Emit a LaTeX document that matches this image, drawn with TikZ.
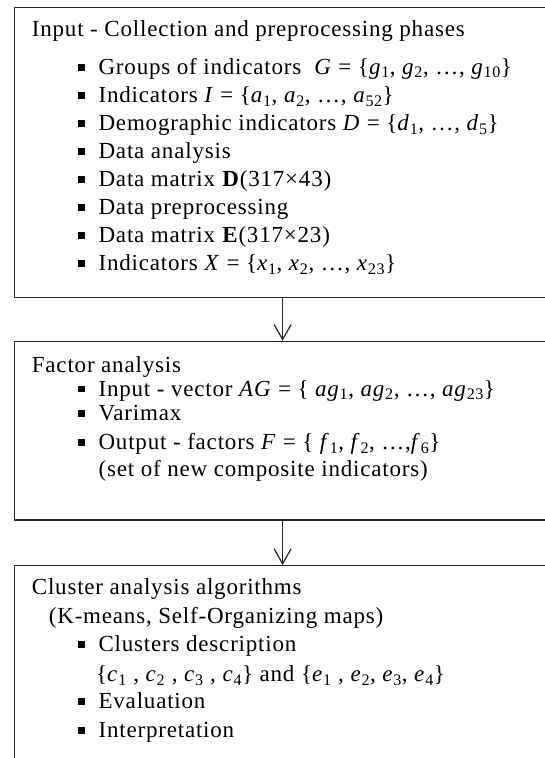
\documentclass[tikz,border=0pt]{standalone}
\usepackage{fontspec}
\setmainfont{Liberation Serif}[LetterSpace=3.5]
\usetikzlibrary{arrows.meta}
\newcommand\sbs[2]{\textit{#1}\textsubscript{#2}}
\newcommand\bul{\rule[3.7pt]{6.7pt}{6.7pt}\hspace{13.7pt}}
\tikzset{
  box/.style={draw=black!85, line width=1.2pt, minimum width=536.2pt, anchor=north west, inner sep=0pt},
  txt/.style={anchor=base west, inner sep=0pt, font=\fontsize{23}{27}\selectfont},
  arr/.style={draw=black!85, line width=1.2pt, -{Straight Barb[length=15pt,width=17pt,line width=1.2pt]}}
}
\begin{document}
\begin{tikzpicture}[x=1pt,y=-1pt]
\useasboundingbox (0,0) rectangle (545,758);
\clip (0,0) rectangle (545,758);
\fill[white] (0,0) rectangle (545,758);
% boxes
\node[box, minimum height=290pt] (b1) at (13.9,6.7) {};
\node[box, minimum height=178.6pt] (b2) at (13.9,340.7) {};
\node[box, minimum height=215pt] (b3) at (13.9,565) {};
\draw[arr] (b1.south) -- (b2.north);
\draw[arr] (b2.south) -- (b3.north);
% box 1
\node[txt] (t1) at (31.7,36.7) {Input - Collection and preprocessing phases};
\node[txt] (t1a) at (78,74.2) {\bul Groups of indicators \ \textit{G} = \{\sbs{g}{1}, \sbs{g}{2}, …, \sbs{g}{10}\}};
\node[txt] (t1b) at (78,102.3) {\bul Indicators \textit{I} = \{\sbs{a}{1}, \sbs{a}{2}, …, \sbs{a}{52}\}};
\node[txt] (t1c) at (78,130.4) {\bul Demographic indicators \textit{D} = \{\sbs{d}{1}, …, \sbs{d}{5}\}};
\node[txt] (t1d) at (78,158.5) {\bul Data analysis};
\node[txt] (t1e) at (78,186.5) {\bul Data matrix \textbf{D}(317×43)};
\node[txt] (t1f) at (78,214.6) {\bul Data preprocessing};
\node[txt] (t1g) at (78,242.7) {\bul Data matrix \textbf{E}(317×23)};
\node[txt] (t1h) at (78,270.7) {\bul Indicators \textit{X} = \{\sbs{x}{1}, \sbs{x}{2}, …, \sbs{x}{23}\}};
% box 2
\node[txt] (t2) at (31.7,372.7) {Factor analysis};
\node[txt] (t2a) at (78,396) {\bul Input - vector \textit{AG} = \{ \sbs{ag}{1}, \sbs{ag}{2}, …, \sbs{ag}{23}\}};
\node[txt] (t2b) at (78,420.7) {\bul Varimax};
\node[txt] (t2c) at (78,449.3) {\bul Output - factors \textit{F} = \{ \sbs{f}{1}, \sbs{f}{2}, …,\sbs{f}{6}\}};
\node[txt] (t2d) at (98.4,476.7) {(set of new composite indicators)};
% box 3
\node[txt] (t3) at (31.7,594.3) {Cluster analysis algorithms};
\node[txt] (t3a) at (48.7,623.3) {(K-means, Self-Organizing maps)};
\node[txt] (t3b) at (78,651.7) {\bul Clusters description};
\node[txt] (t3c) at (96,681.7) {\{\sbs{c}{1} , \sbs{c}{2} , \sbs{c}{3} , \sbs{c}{4}\} and \{\sbs{e}{1} , \sbs{e}{2}, \sbs{e}{3}, \sbs{e}{4}\}};
\node[txt] (t3d) at (78,708.3) {\bul Evaluation};
\node[txt] (t3e) at (78,737.3) {\bul Interpretation};
\end{tikzpicture}
\end{document}
